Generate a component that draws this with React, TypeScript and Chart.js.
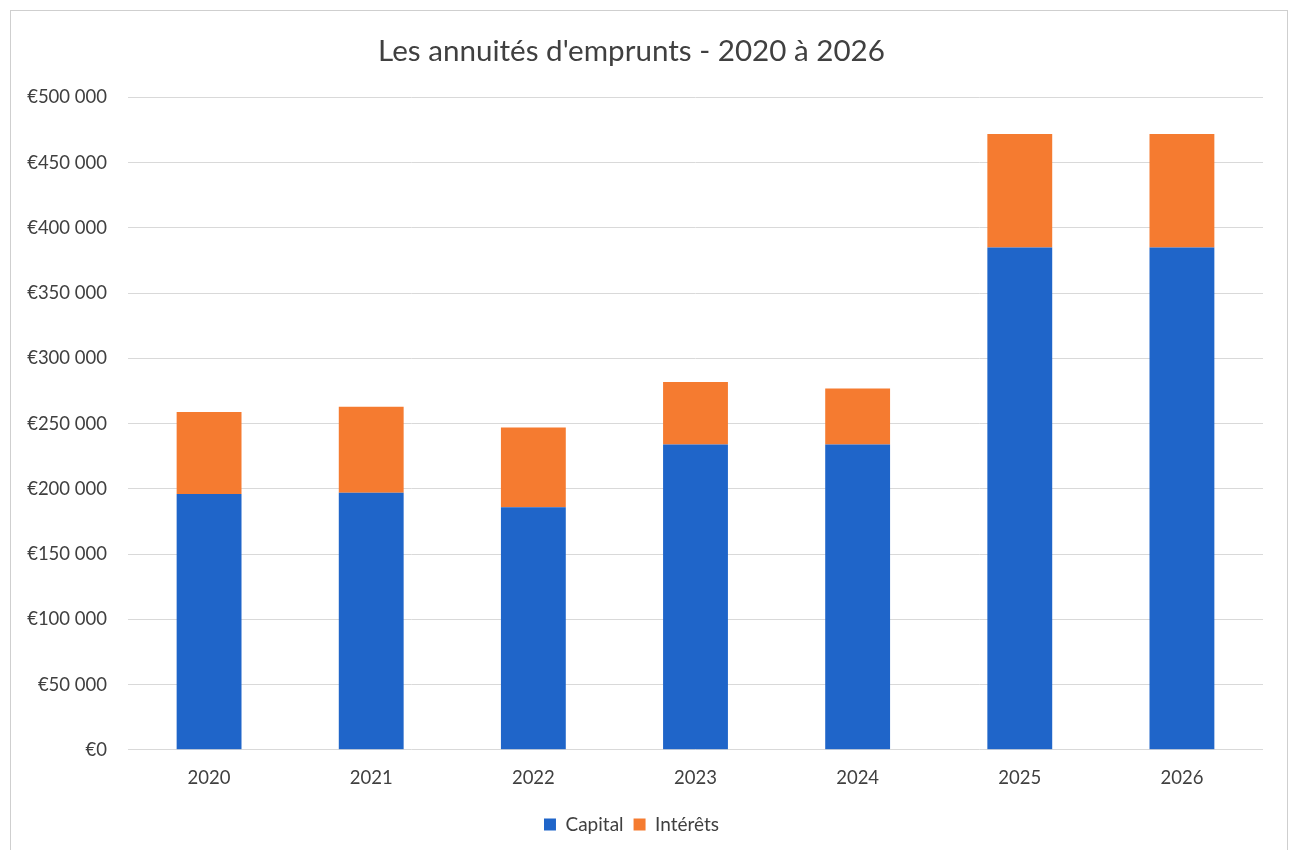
import React, { useEffect, useRef } from "react";
import { Chart, registerables } from "chart.js";

Chart.register(...registerables);

const categories = ["2020", "2021", "2022", "2023", "2024", "2025", "2026"];
const capital = [196000, 197000, 186000, 234000, 234000, 385000, 385000];
const interets = [63000, 66000, 61000, 48000, 43000, 87000, 87000];
const yTicks = [0, 50000, 100000, 150000, 200000, 250000, 300000, 350000, 400000, 450000, 500000];

const FONT = "Lato, 'Open Sans', sans-serif";
const TEXT = "#404040";

function fmt(v: number): string {
  return "€" + String(Math.round(v)).replace(/\B(?=(\d{3})+(?!\d))/g, " ");
}

export default function App() {
  const ref = useRef<HTMLCanvasElement | null>(null);
  useEffect(() => {
    if (!ref.current) return;
    const chart = new Chart(ref.current, {
      type: "bar",
      data: {
        labels: categories,
        datasets: [
          { label: "Capital", data: capital, backgroundColor: "#1F65C9", borderWidth: 0, barPercentage: 0.4, categoryPercentage: 1 },
          { label: "Intérêts", data: interets, backgroundColor: "#F57B30", borderWidth: 0, barPercentage: 0.4, categoryPercentage: 1 },
        ],
      },
      options: {
        responsive: false,
        animation: false,
        layout: { padding: { left: 0, right: 28, top: 0, bottom: 6 } },
        plugins: {
          title: {
            display: true,
            text: "Les annuités d'emprunts - 2020 à 2026",
            color: TEXT,
            font: { family: FONT, size: 29.6, weight: "normal" },
            padding: { top: 34, bottom: 28 },
          },
          legend: {
            position: "bottom",
            labels: {
              color: TEXT,
              font: { family: FONT, size: 19 },
              boxWidth: 12,
              boxHeight: 12,
              padding: 10,
              useBorderRadius: false,
            },
          },
          tooltip: { enabled: false },
        },
        scales: {
          x: {
            stacked: true,
            grid: { display: false },
            border: { display: false },
            afterFit: (s: any) => { s.height = s.height + 7; },
            ticks: { color: TEXT, font: { family: FONT, size: 18.5 }, padding: 9 },
          },
          y: {
            stacked: true,
            min: 0,
            max: 500000,
            afterFit: (s: any) => { s.width = 128; },
            afterBuildTicks: (s: any) => { s.ticks = yTicks.map((v) => ({ value: v })); },
            grid: { color: "#d9d9d9", lineWidth: 1, drawTicks: false },
            border: { display: false },
            ticks: {
              color: TEXT,
              font: { family: FONT, size: 18.5 },
              padding: 21,
              callback: (v: any) => fmt(Number(v)),
            },
          },
        },
      },
    });
    return () => chart.destroy();
  }, []);
  return (
    <div style={{ position: "fixed", left: 0, top: 0, width: 1291, height: 850, background: "#fff", overflow: "hidden" }}>
      <div style={{ position: "absolute", left: 10, top: 10, width: 1276, height: 860, border: "1px solid #cfcfcf" }} />
      <canvas ref={ref} width={1291} height={850} style={{ position: "absolute", left: 0, top: 0 }} />
    </div>
  );
}
